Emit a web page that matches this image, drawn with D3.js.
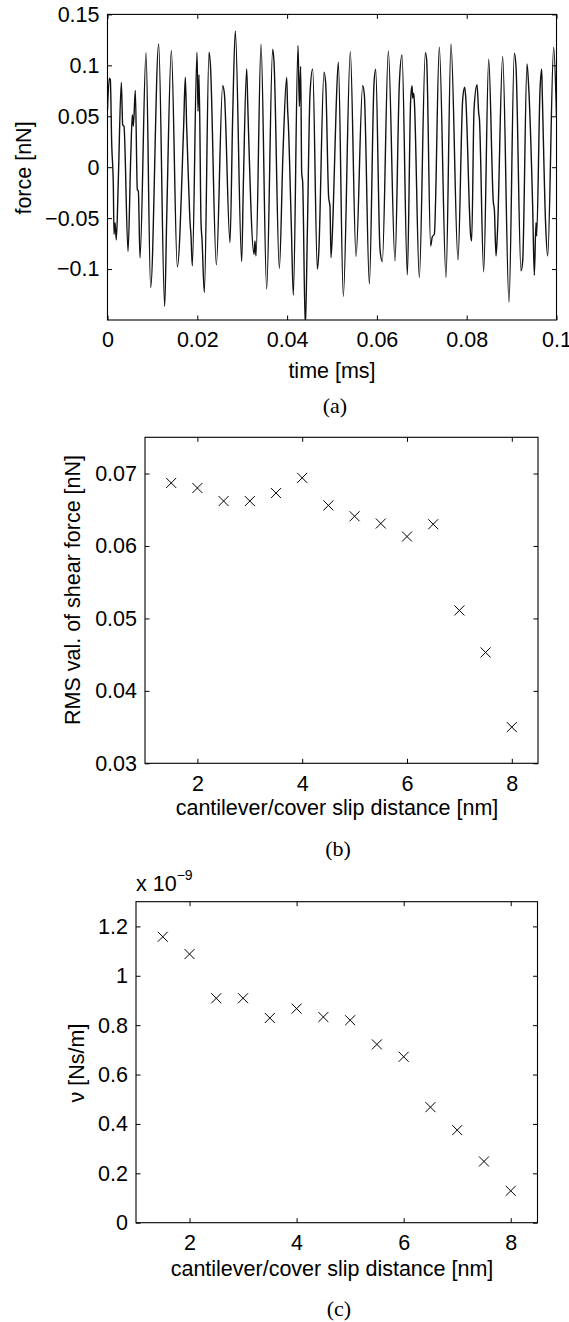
<!DOCTYPE html>
<html>
<head>
<meta charset="utf-8">
<script src="https://cdn.jsdelivr.net/npm/d3@7"></script>
<style>
  body { margin: 0; background: #fff; }
  svg { display: block; }
  text { font-family: "Liberation Sans", Arial, Helvetica, sans-serif; fill: #000; }
  .caption { font-family: "Liberation Serif", "Times New Roman", serif; }
</style>
</head>
<body>
<div id="chart"></div>
<script>
// (a) shear force signal: time [ms] / force [nN]
const forceTime = [0, 0.00041, 0.00063, 0.00093, 0.00130, 0.00145, 0.00167, 0.00197, 0.00241, 0.00308,
  0.00338, 0.00367, 0.00457, 0.00516, 0.00553, 0.00575, 0.00620, 0.00664, 0.00687, 0.00724,
  0.00858, 0.00961, 0.01140, 0.01273, 0.01318, 0.01422, 0.01555, 0.01696, 0.01733, 0.01763,
  0.01808, 0.01837, 0.01860, 0.01889, 0.01993, 0.02016, 0.02038, 0.02083, 0.02105, 0.02157,
  0.02261, 0.02290, 0.02424, 0.02565, 0.02602, 0.02728, 0.02788, 0.02847, 0.02988, 0.03025,
  0.03099, 0.03122, 0.03137, 0.03263, 0.03285, 0.03307, 0.03419, 0.03545, 0.03679, 0.03708,
  0.03827, 0.03909, 0.03990, 0.04012, 0.04027, 0.04094, 0.04139, 0.04243, 0.04273, 0.04302,
  0.04325, 0.04347, 0.04406, 0.04451, 0.04510, 0.04570, 0.04674, 0.04703, 0.04822, 0.04859,
  0.04926, 0.04955, 0.04978, 0.05030, 0.05089, 0.05141, 0.05252, 0.05408, 0.05535, 0.05683,
  0.05720, 0.05832, 0.05936, 0.05973, 0.06069, 0.06121, 0.06255, 0.06403, 0.06500, 0.06559,
  0.06678, 0.06752, 0.06782, 0.06797, 0.06819, 0.06834, 0.06945, 0.07079, 0.07108, 0.07197,
  0.07234, 0.07279, 0.07390, 0.07539, 0.07650, 0.07806, 0.07910, 0.07955, 0.07977, 0.08089,
  0.08111, 0.08163, 0.08230, 0.08267, 0.08282, 0.08378, 0.08490, 0.08594, 0.08616, 0.08653,
  0.08683, 0.08801, 0.08942, 0.09061, 0.09098, 0.09209, 0.09247, 0.09343, 0.09380, 0.09469,
  0.09506, 0.09543, 0.09558, 0.09633, 0.09670, 0.09685, 0.09759, 0.09804, 0.09937, 0.1];
const forceValue = [0.0564, 0.0874, 0.0858, 0.0238, -0.0186, -0.0659, -0.0545, -0.0714, -0.0121, 0.0832,
  0.0417, 0.0401, -0.0828, 0.0075, 0.0515, 0.0401, 0.0753, -0.0219, -0.0235, -0.0890,
  0.1125, -0.1181, 0.1210, -0.1367, -0.0512, 0.1145, -0.0978, 0.0401, 0.0884, 0.0401,
  -0.0186, -0.0528, -0.0675, -0.0969, 0.1128, 0.0548, 0.0907, -0.0545, -0.0708, -0.1230,
  0.1128, 0.1021, -0.0959, 0.0799, 0.0727, -0.0740, 0.0499, 0.1337, -0.0926, -0.0186,
  0.0965, 0.0646, 0.0411, -0.0855, -0.0724, -0.0871, 0.1207, -0.1197, 0.1158, 0.1037,
  -0.0995, 0.0147, 0.0881, 0.0564, 0.0434, -0.0577, -0.1256, 0.1194, 0.0597, 0.0988,
  -0.0055, -0.0147, -0.158, -0.0643, 0.0718, 0.0965, -0.1001, -0.0855, 0.0933, 0.0825,
  -0.0300, -0.0382, -0.0887, -0.0382, 0.0538, 0.1031, -0.1269, 0.1135, -0.0877, 0.0799,
  0.0711, -0.1148, 0.0825, 0.0962, -0.0806, -0.0926, 0.1142, -0.0920, 0.0825, 0.1102,
  -0.1057, 0.0662, 0.0799, 0.0678, 0.0727, 0.0646, -0.1083, 0.1125, 0.1053, -0.0773,
  -0.0682, -0.0659, 0.1177, -0.1083, 0.1210, -0.0910, 0.0662, 0.0786, 0.0695, -0.0675,
  -0.0724, 0.0564, 0.0809, 0.0532, 0.0483, -0.1027, 0.1060, -0.0349, -0.0414, -0.0871,
  -0.0659, 0.1086, -0.1327, 0.1119, 0.0988, -0.1018, -0.0920, 0.1014, 0.0793, -0.0382,
  -0.1060, -0.0545, -0.0675, 0.0760, 0.0962, 0.0695, -0.0577, -0.0871, 0.1177, 0.0499];

// (b) and (c): cantilever / cover slip distance [nm]
const distance = [1.5, 2, 2.5, 3, 3.5, 4, 4.5, 5, 5.5, 6, 6.5, 7, 7.5, 8];
const rmsForce = [0.0687, 0.0680, 0.0662, 0.0662, 0.0673, 0.0694, 0.0656, 0.0641, 0.0631, 0.0613, 0.0630, 0.0511, 0.0453, 0.0350];
const damping = [1.158, 1.088, 0.909, 0.909, 0.829, 0.867, 0.833, 0.820, 0.722, 0.672, 0.468, 0.375, 0.248, 0.129]; // x 1e-9 Ns/m

// tick values
const timeTicks = [0, 0.02, 0.04, 0.06, 0.08, 0.1];
const forceTicks = [-0.1, -0.05, 0, 0.05, 0.1, 0.15];
const distTicks = [2, 4, 6, 8];
const rmsTicks = [0.03, 0.04, 0.05, 0.06, 0.07];
const dampTicks = [0, 0.2, 0.4, 0.6, 0.8, 1, 1.2];

const W = 569, H = 1322;
const tick = 4.5;
const fmt = d3.format("~g");

const svg = d3.select("#chart").append("svg")
    .attr("width", W)
    .attr("height", H);
svg.append("rect").attr("width", W).attr("height", H).attr("fill", "#fff");

function panel(p) {
    const x = d3.scaleLinear().domain(p.xDomain).range([p.left, p.right]);
    const y = d3.scaleLinear().domain(p.yDomain).range([p.bottom, p.top]);
    const g = svg.append("g");

    const axes = [
        [d3.axisBottom(x).tickValues(p.xTicks).tickFormat(p.xFmt), `translate(0,${p.bottom})`],
        [d3.axisTop(x).tickValues(p.xTicks).tickFormat(""), `translate(0,${p.top})`],
        [d3.axisLeft(y).tickValues(p.yTicks).tickFormat(p.yFmt), `translate(${p.left},0)`],
        [d3.axisRight(y).tickValues(p.yTicks).tickFormat(""), `translate(${p.right},0)`]
    ];
    axes.forEach(([ax, tr], i) => {
        const a = g.append("g").attr("transform", tr)
            .call(ax.tickSizeInner(-tick).tickSizeOuter(0).tickPadding(i === 0 ? 12 : 8));
        a.select(".domain").remove();
        a.selectAll("line").attr("stroke", "#000").attr("stroke-width", 1);
        a.selectAll("text").attr("font-size", 21.5)
            .attr("font-family", '"Liberation Sans", Arial, sans-serif');
    });

    g.append("rect")
        .attr("x", p.left).attr("y", p.top)
        .attr("width", p.right - p.left).attr("height", p.bottom - p.top)
        .attr("fill", "none").attr("stroke", "#000").attr("stroke-width", 1.1);

    g.append("text")
        .attr("x", p.xLabelX).attr("y", p.xLabelY)
        .attr("text-anchor", "middle").attr("font-size", 21.5)
        .text(p.xLabel);

    g.append("text")
        .attr("transform", `translate(${p.yLabelX},${p.yLabelY}) rotate(-90)`)
        .attr("text-anchor", "middle").attr("font-size", 21.5)
        .text(p.yLabel);

    g.append("text").attr("class", "caption")
        .attr("x", p.capX).attr("y", p.capY)
        .attr("text-anchor", "middle").attr("font-size", 22)
        .text(p.caption);

    return { g, x, y };
}

// (a)
const a = panel({
    left: 107.5, right: 556.5, top: 14.4, bottom: 320,
    xDomain: [0, 0.1], yDomain: [-0.15, 0.15],
    xTicks: timeTicks, yTicks: forceTicks, xFmt: fmt, yFmt: fmt,
    xLabel: "time [ms]", xLabelX: 332, xLabelY: 378,
    yLabel: "force [nN]", yLabelX: 31, yLabelY: 168,
    caption: "(a)", capX: 335, capY: 413
});
svg.append("clipPath").attr("id", "clipA").append("rect")
    .attr("x", 107.5).attr("y", 14.4).attr("width", 449).attr("height", 305.6);
a.g.append("path")
    .datum(d3.zip(forceTime, forceValue))
    .attr("clip-path", "url(#clipA)")
    .attr("fill", "none").attr("stroke", "#111").attr("stroke-width", 1.4)
    .attr("stroke-linejoin", "round")
    .attr("d", d3.line().x(d => a.x(d[0])).y(d => a.y(d[1])).curve(d3.curveMonotoneX));

function crosses(pn, xs, ys) {
    const s = 5;
    pn.g.selectAll(null)
        .data(d3.zip(xs, ys))
        .join("path")
        .attr("fill", "none").attr("stroke", "#000").attr("stroke-width", 1)
        .attr("d", d => {
            const cx = pn.x(d[0]), cy = pn.y(d[1]);
            return `M${cx - s},${cy - s}L${cx + s},${cy + s}M${cx - s},${cy + s}L${cx + s},${cy - s}`;
        });
}

// (b)
const b = panel({
    left: 145, right: 538, top: 437.3, bottom: 763.3,
    xDomain: [1, 8.5], yDomain: [0.03, 0.075],
    xTicks: distTicks, yTicks: rmsTicks, xFmt: fmt, yFmt: d3.format(".2f"),
    xLabel: "cantilever/cover slip distance [nm]", xLabelX: 337, xLabelY: 815,
    yLabel: "RMS val. of shear force [nN]", yLabelX: 80, yLabelY: 590,
    caption: "(b)", capX: 338, capY: 856
});
crosses(b, distance, rmsForce);

// (c)
const c = panel({
    left: 136, right: 537.5, top: 901.7, bottom: 1222.7,
    xDomain: [1, 8.5], yDomain: [0, 1.3],
    xTicks: distTicks, yTicks: dampTicks, xFmt: fmt, yFmt: fmt,
    xLabel: "cantilever/cover slip distance [nm]", xLabelX: 332, xLabelY: 1276,
    yLabel: "ν [Ns/m]", yLabelX: 84, yLabelY: 1063,
    caption: "(c)", capX: 339, capY: 1316
});
crosses(c, distance, damping);

// exponent label above panel (c)
const ex = c.g.append("text").attr("x", 136).attr("y", 891).attr("font-size", 21.5);
ex.append("tspan").text("x 10");
ex.append("tspan").attr("dy", -11).attr("font-size", 14).text("\u22129");
</script>
</body>
</html>
